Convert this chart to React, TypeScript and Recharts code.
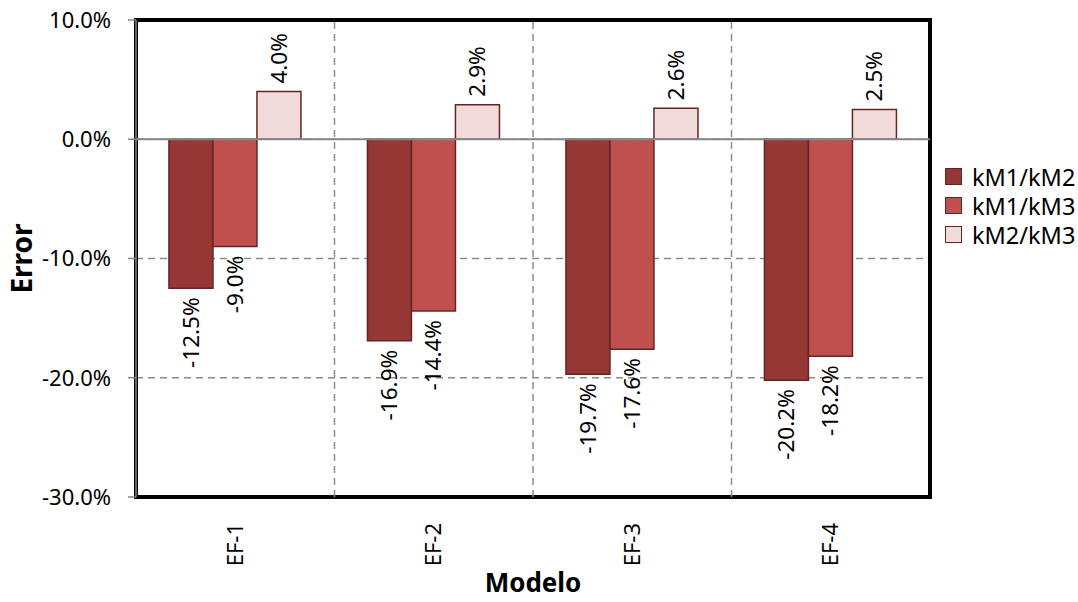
import {
  BarChart,
  Bar,
  XAxis,
  YAxis,
  CartesianGrid,
  ReferenceLine,
  ReferenceArea,
  LabelList,
} from 'recharts';

const models = ['EF-1', 'EF-2', 'EF-3', 'EF-4'];
const km1km2 = [-12.5, -16.9, -19.7, -20.2];
const km1km3 = [-9.0, -14.4, -17.6, -18.2];
const km2km3 = [4.0, 2.9, 2.6, 2.5];
const yTicks = [-30, -20, -10, 0, 10];

const series = [
  { key: 'km1km2', name: 'kM1/kM2', color: '#953735' },
  { key: 'km1km3', name: 'kM1/kM3', color: '#C0504D' },
  { key: 'km2km3', name: 'kM2/kM3', color: '#F2DCDB' },
];

const data = models.map((name, i) => ({
  name,
  km1km2: km1km2[i],
  km1km3: km1km3[i],
  km2km3: km2km3[i],
}));

const FONT = '"Noto Sans", "Open Sans", sans-serif';
const pct = (v: number) => `${v.toFixed(1)}%`;

const BarValue = (props: any) => {
  const { x, y, width, height, value } = props;
  const cx = x + width / 2;
  const top = Math.min(y, y + height);
  const bottom = Math.max(y, y + height);
  const pos = value >= 0;
  const ay = pos ? top - 8 : bottom + 9;
  return (
    <text
      x={cx}
      y={ay}
      transform={`rotate(-90 ${cx} ${ay})`}
      textAnchor={pos ? 'start' : 'end'}
      dy="0.35em"
      fontSize={22.5}
      fontFamily={FONT}
      fill="#000"
    >
      {pct(value)}
    </text>
  );
};

const CategoryTick = (props: any) => {
  const { x, y, payload } = props;
  const ty = y + 18;
  return (
    <text
      x={x}
      y={ty}
      transform={`rotate(-90 ${x} ${ty})`}
      textAnchor="end"
      dy="0.35em"
      fontSize={22}
      fontFamily={FONT}
      fill="#000"
    >
      {payload.value}
    </text>
  );
};

export default function App() {
  return (
    <div style={{ position: 'absolute', left: 0, top: 0, width: 1078, height: 602, background: '#fff' }}>
      <BarChart
        width={1078}
        height={602}
        data={data}
        margin={{ top: 20, right: 148, bottom: 0, left: 0 }}
        barCategoryGap="16.6%"
        barGap={0}
      >
        <CartesianGrid
          vertical={false}
          stroke="#8c8c8c"
          strokeWidth={1.5}
          strokeDasharray="7 5"
        />
        <XAxis
          dataKey="name"
          height={105}
          axisLine={false}
          tickLine={false}
          tick={<CategoryTick />}
          label={{
            content: (p: any) => {
              const vb = p.viewBox;
              return (
                <text
                  x={vb.x + vb.width / 2}
                  y={vb.y + vb.height - 10}
                  textAnchor="middle"
                  fontSize={26}
                  fontWeight={700}
                  fontFamily={FONT}
                  fill="#000"
                >
                  Modelo
                </text>
              );
            },
          }}
        />
        <YAxis
          width={136}
          domain={[-30, 10]}
          ticks={yTicks}
          tickFormatter={pct}
          tickSize={8}
          tickMargin={17}
          tickLine={{ stroke: '#868686', strokeWidth: 1.5 }}
          axisLine={{ stroke: '#868686', strokeWidth: 1.5 }}
          tick={{ fill: '#000', fontSize: 22, fontFamily: FONT }}
          label={{
            content: (p: any) => {
              const vb = p.viewBox;
              const lx = vb.x + 22;
              const ly = vb.y + vb.height / 2;
              return (
                <text
                  x={lx}
                  y={ly}
                  transform={`rotate(-90 ${lx} ${ly})`}
                  textAnchor="middle"
                  dy="0.35em"
                  fontSize={28}
                  fontWeight={700}
                  fontFamily={FONT}
                  fill="#000"
                >
                  Error
                </text>
              );
            },
          }}
        />
        {models.slice(1).map((m) => (
          <ReferenceLine
            key={m}
            x={m}
            position="start"
            stroke="#8c8c8c"
            strokeWidth={1.5}
            strokeDasharray="7 5"
          />
        ))}
        <ReferenceLine y={0} stroke="#868686" strokeWidth={2} />
        {series.map((s) => (
          <Bar
            key={s.key}
            dataKey={s.key}
            name={s.name}
            fill={s.color}
            stroke="#632523"
            strokeWidth={1.5}
            isAnimationActive={false}
          >
            <LabelList dataKey={s.key} content={<BarValue />} />
          </Bar>
        ))}
        <ReferenceArea y1={-30} y2={10} fill="none" stroke="#000" strokeWidth={4} />
      </BarChart>
      <div
        style={{
          position: 'absolute',
          left: 945,
          top: 162,
          fontFamily: FONT,
          fontSize: 23.5,
          color: '#000',
        }}
      >
        {series.map((s) => (
          <div key={s.key} style={{ display: 'flex', alignItems: 'center', height: 29 }}>
            <span
              style={{
                width: 15,
                height: 15,
                background: s.color,
                border: '1.5px solid #632523',
                marginRight: 10,
                display: 'inline-block',
              }}
            />
            <span>{s.name}</span>
          </div>
        ))}
      </div>
    </div>
  );
}
